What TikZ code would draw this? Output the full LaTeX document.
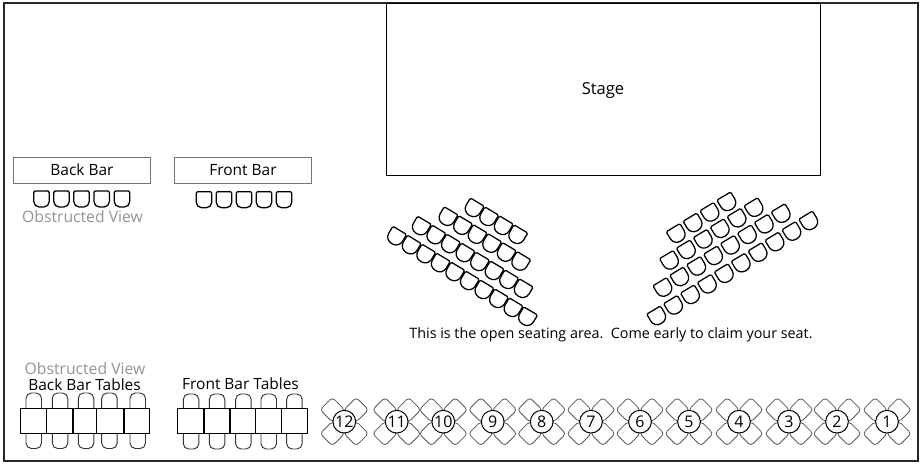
\documentclass[tikz,border=0pt]{standalone}
\usepackage{fontspec}
\setmainfont{Open Sans}
\tikzset{
  x=0.75pt,y=-0.75pt,
  lbl/.style={inner sep=0pt,font=\fontsize{11.6}{13}\selectfont,text=black},
  obs/.style={lbl,text=black!42,font=\fontsize{11.8}{13}\selectfont},
  barbox/.style={draw=black!55,line width=0.75pt,fill=white},
  seatline/.style={draw=black,line width=0.95pt,fill=white},
  tablebox/.style={draw=black,line width=0.7pt,fill=white},
  chairline/.style={draw=black!80,line width=0.7pt,fill=white},
  crossline/.style={draw=black!65,line width=0.6pt,fill=white,rounded corners=2.5pt},
  seat/.pic={\path[seatline] (-8,-7.7) [rounded corners=1pt] -- (8,-7.7) [rounded corners=5.5pt] -- (8,7.7) -- (-8,7.7) [rounded corners=1pt] -- cycle;},
  flatseat/.pic={\path[seatline] (-7.7,-8) [rounded corners=1pt] -- (7.7,-8) [rounded corners=4pt] -- (7.7,8) -- (-7.7,8) [rounded corners=1pt] -- cycle;},
  cross/.pic={
    \foreach \a/\b in {-1/-1,1/-1,-1/1,1/1}{
      \path[crossline,rotate around={45:(11.9*\a,11.9*\b)}] (11.9*\a-8.7,11.9*\b-8.7) rectangle (11.9*\a+8.7,11.9*\b+8.7);
    }
  },
  round/.style={circle,draw=black,line width=0.75pt,fill=white,minimum size=17pt,inner sep=0pt,font=\fontsize{12}{13}\selectfont},
}
\begin{document}
\begin{tikzpicture}
\useasboundingbox (0,0) rectangle (922,464);
\fill[white] (0,0) rectangle (922,464);
\draw[black!85,line width=1.3pt] (4,3) rectangle (918,461);
% stage and bars
\node[draw=black,line width=0.8pt,fill=white,minimum width=325pt,minimum height=128.5pt,inner sep=0pt] (stage) at (603.5,89.5) {};
\node[inner sep=0pt,font=\fontsize{12.4}{13}\selectfont] (stagelabel) at (603,90) {Stage};
\node[barbox,lbl,draw=black!55,minimum width=103pt,minimum height=19.5pt] (backbar) at (82,170) {Back Bar};
\node[barbox,lbl,draw=black!55,minimum width=103pt,minimum height=19.5pt] (frontbar) at (243,170.5) {\raisebox{1pt}{Front Bar}};
% bar seats
\foreach \x in {41.5,61.5,81.5,101.7,122}{\pic at (\x,199) {flatseat};}
\foreach \x in {204,224,244,264,284}{\pic at (\x,199.7) {flatseat};}
\node[obs] (obs1) at (82.5,216.5) {Obstructed View};
% left seating block
\foreach \sx/\sy/\n in {473.3/208.7/3,447.2/217.5/5,420.5/226.9/7,395.8/237/9}{
  \foreach \i in {0,...,\n}{
    \pic[rotate=-31] at ({\sx+14.55*\i},{\sy+8.95*\i}) {seat};
  }
}
% right seating block
\foreach \sx/\sy/\n in {677/234.3/3,670.3/261.2/5,663.7/288.3/7,657.5/316.7/9}{
  \foreach \i in {0,...,\n}{
    \pic[rotate=31] at ({\sx+16.9*\i},{\sy-10.55*\i}) {seat};
  }
}
\node[inner sep=0pt,font=\fontsize{10.75}{13}\selectfont] (note) at (611,335) {This is the open seating area.\ \ Come early to claim your seat.};
% back bar tables
\node[obs] (obs2) at (85,368.5) {Obstructed View};
\node[lbl] (bbt) at (84.5,385) {Back Bar Tables};
\node[lbl] (fbt) at (240.5,384) {Front Bar Tables};
\foreach \l in {26,52.3,78.3,101.7,130}{
  \draw[chairline,rounded corners=4pt] (\l,409) -- (\l,393) -- (\l+15.5,393) -- (\l+15.5,409);
  \draw[chairline,rounded corners=4pt] (\l,432) -- (\l,448.5) -- (\l+15.5,448.5) -- (\l+15.5,432);
}
\foreach \l in {183.3,209.3,235.7,261,286.7}{
  \draw[chairline,rounded corners=4pt] (\l,409) -- (\l,394) -- (\l+15.5,394) -- (\l+15.5,409);
  \draw[chairline,rounded corners=4pt] (\l,432) -- (\l,449) -- (\l+15.5,449) -- (\l+15.5,432);
}
\foreach \a/\b in {20.3/46.3,46.3/72.7,73.3/96.7,96.7/123.3,124.3/149.7,177.3/203.3,204/229.7,230.3/255.7,255.7/281.3,281.3/307.3}{
  \draw[tablebox] (\a,408.3) rectangle (\b,433.5);
}
% numbered round tables
\foreach \x/\t in {344.3/12,396.7/11,443.3/10,492.7/9,541.7/8,591/7,640/6,689/5,739/4,789/3,837/2,887/1}{
  \pic at (\x,421.7) {cross};
  \node[round] (t\t) at (\x,421.7) {\t};
}
\end{tikzpicture}
\end{document}
